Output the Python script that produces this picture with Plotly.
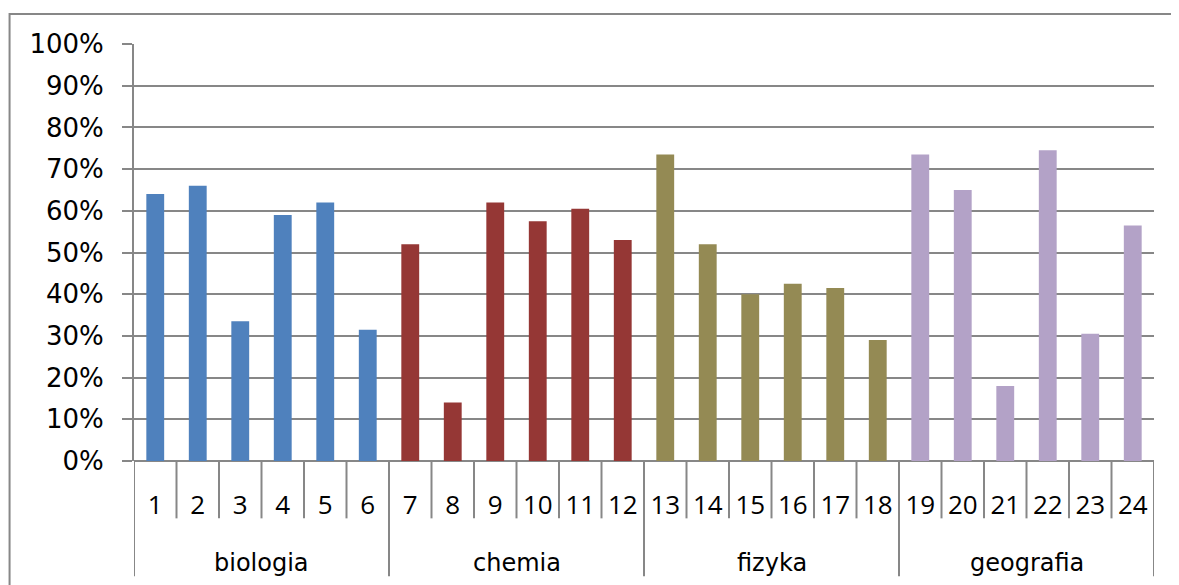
import plotly.graph_objects as go

# ---- data ----
groups = ["biologia", "chemia", "fizyka", "geografia"]
items_per_group = 6
task_labels = [str(i) for i in range(1, 25)]
values = [
    0.64, 0.66, 0.335, 0.59, 0.62, 0.315,      # biologia
    0.52, 0.14, 0.62, 0.575, 0.605, 0.53,      # chemia
    0.735, 0.52, 0.40, 0.425, 0.415, 0.29,     # fizyka
    0.735, 0.65, 0.18, 0.745, 0.305, 0.565,    # geografia
]
group_colors = ["#4F81BD", "#953735", "#948A54", "#B3A2C7"]
y_ticks = [i / 10 for i in range(11)]

# ---- geometry (pixels, in window coords; page body has an 8px margin) ----
OFF = 8
W, H = 1179 - OFF, 585 - OFF
L = 134 - OFF
T = 43.5 - OFF
R = (1179 - OFF) - (1154.5 - OFF)
B = (585 - OFF) - (461.5 - OFF)
plot_h = H - T - B
plot_w = W - L - R

def py(p):
    # window pixel y -> paper y
    return (H - B - (p - OFF)) / plot_h

def px(p):
    return ((p - OFF) - L) / plot_w

colors = []
for gi, _ in enumerate(groups):
    colors += [group_colors[gi]] * items_per_group

grid_col = "#878787"

fig = go.Figure(go.Bar(
    x=list(range(len(values))),
    y=values,
    marker=dict(color=colors, line=dict(width=0)),
    width=0.42,
    showlegend=False,
))

shapes = []
n = len(values)
for i in range(n + 1):
    is_group = (i % items_per_group == 0)
    shapes.append(dict(
        type="line", xref="x", yref="paper",
        x0=i - 0.5, x1=i - 0.5, y0=0, y1=py(577 if is_group else 519),
        line=dict(color=grid_col, width=2),
    ))
# outer chart border (partially outside the image)
shapes.append(dict(
    type="rect", xref="paper", yref="paper",
    x0=px(9.5), x1=px(1220), y0=py(13.5), y1=py(640),
    line=dict(color=grid_col, width=2), fillcolor="rgba(0,0,0,0)",
))

annotations = []
for gi, g in enumerate(groups):
    c = gi * items_per_group + (items_per_group - 1) / 2
    annotations.append(dict(
        x=c, y=py(564), xref="x", yref="paper", text=g, showarrow=False,
        font=dict(family="DejaVu Sans", size=24, color="#000000"),
        xanchor="center", yanchor="middle",
    ))

fig.update_layout(
    width=W, height=H,
    margin=dict(l=L, r=R, t=T, b=B, pad=0),
    paper_bgcolor="white", plot_bgcolor="white",
    shapes=shapes, annotations=annotations,
    bargap=0.58,
)
fig.update_xaxes(
    range=[-0.5, n - 0.5],
    tickmode="array", tickvals=list(range(n)), ticktext=task_labels,
    tickfont=dict(family="Open Sans", size=26, color="#000000"),
    ticks="", showgrid=False, zeroline=False, showline=False,
    ticklabelstandoff=26,
)
fig.update_yaxes(
    range=[0, 1], tickmode="array", tickvals=y_ticks, tickformat=".0%",
    tickfont=dict(family="DejaVu Sans", size=26, color="#000000"),
    showgrid=True, gridcolor=grid_col, gridwidth=2,
    zeroline=True, zerolinecolor=grid_col, zerolinewidth=2,
    showline=True, linecolor=grid_col, linewidth=2,
    ticks="outside", ticklen=10, tickcolor=grid_col, tickwidth=2,
    ticklabelstandoff=13,
)

fig.write_html("out.html")
